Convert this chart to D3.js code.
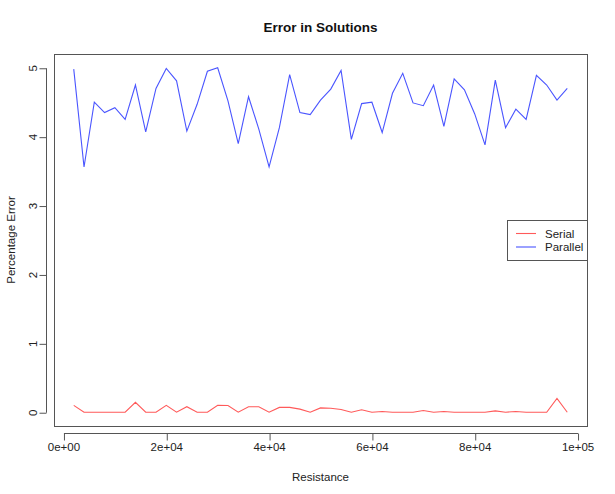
<!DOCTYPE html>
<html><head><meta charset="utf-8">
<script src="https://cdn.jsdelivr.net/npm/d3@7"></script>
<style>body{margin:0;background:#fff}svg{display:block}text{font-family:"Liberation Sans",Arial,sans-serif}</style>
</head><body>
<svg id="c" width="615" height="494"></svg>
<script>
const resistance = [2000,4000,6000,8000,10000,12000,14000,16000,18000,20000,22000,24000,26000,28000,30000,32000,34000,36000,38000,40000,42000,44000,46000,48000,50000,52000,54000,56000,58000,60000,62000,64000,66000,68000,70000,72000,74000,76000,78000,80000,82000,84000,86000,88000,90000,92000,94000,96000,98000];
const parallelErr = [4.98,3.56,4.50,4.35,4.42,4.25,4.75,4.07,4.70,4.99,4.81,4.08,4.47,4.95,5.00,4.52,3.90,4.58,4.11,3.56,4.13,4.90,4.35,4.32,4.53,4.69,4.96,3.96,4.48,4.50,4.06,4.63,4.92,4.49,4.45,4.75,4.15,4.84,4.68,4.33,3.88,4.82,4.13,4.40,4.25,4.89,4.75,4.53,4.70];
const serialErr = [0.10,0,0,0,0,0,0.145,0,0,0.10,0,0.08,0,0,0.10,0.097,0,0.08,0.08,0,0.07,0.07,0.045,0,0.063,0.058,0.04,0,0.035,0,0.01,0,0,0,0.025,0,0.01,0,0,0,0,0.02,0,0.01,0,0,0,0.20,0];
const xTicks = [0,20000,40000,60000,80000,100000];
const xTickLabels = ["0e+00","2e+04","4e+04","6e+04","8e+04","1e+05"];
const yTicks = [0,1,2,3,4,5];
const seriesNames = ["Serial","Parallel"];
const seriesColors = ["#ff5a5a","#4a55ff"];

const svg = d3.select("#c");
const L=54, R=587, T=54, B=426;
const xr = d3.extent(resistance), xp = (xr[1]-xr[0])*0.04;
const x = d3.scaleLinear().domain([xr[0]-xp, xr[1]+xp]).range([L,R]);
const ymax = d3.max(parallelErr.concat(serialErr)), ymin = d3.min(parallelErr.concat(serialErr));
const yp = (ymax-ymin)*0.04;
const y = d3.scaleLinear().domain([ymin-yp, ymax+yp]).range([B,T]);

const axisCol = "#555";
svg.append("rect").attr("x",L+0.5).attr("y",T+0.5).attr("width",R-L).attr("height",B-T)
  .attr("fill","none").attr("stroke",axisCol).attr("stroke-width",1);

const xa = svg.append("g").attr("transform",`translate(0,${B+7.5})`)
  .call(d3.axisBottom(x).tickValues(xTicks).tickFormat((d,i)=>xTickLabels[i]).tickSize(7).tickPadding(2).tickSizeOuter(0));
xa.select(".domain").attr("d",`M${x(0)+0.5},-0.0H${x(100000)+0.5}`).attr("stroke",axisCol);
xa.selectAll(".tick line").attr("stroke",axisCol).attr("transform","translate(0.5,0)");
xa.selectAll(".tick text").attr("font-size",11.5).attr("fill","#222")
  .attr("font-family","'Liberation Sans',Arial,sans-serif");

const ya = svg.append("g").attr("transform",`translate(${L-7.5},0)`)
  .call(d3.axisLeft(y).tickValues(yTicks).tickFormat(d3.format("d")).tickSize(7).tickSizeOuter(0));
ya.select(".domain").attr("d",`M0,${y(0)+0.5}V${y(5)+0.5}`).attr("stroke",axisCol);
ya.selectAll(".tick line").attr("stroke",axisCol).attr("transform","translate(0,0.5)");
ya.selectAll(".tick text").attr("font-size",11.5).attr("fill","#222")
  .attr("x",null).attr("dy",null)
  .attr("text-anchor","middle")
  .attr("transform","translate(-14,0) rotate(-90)").attr("y",0).attr("dy","0.35em")
  .attr("font-family","'Liberation Sans',Arial,sans-serif");

const line = d3.line().x((d,i)=>x(resistance[i])).y(d=>y(d));
[serialErr, parallelErr].forEach((s,k)=>{
  svg.append("path").datum(s).attr("d",line).attr("fill","none")
    .attr("stroke",seriesColors[k]).attr("stroke-width",1.1);
});

svg.append("text").attr("x",(L+R)/2).attr("y",32).attr("text-anchor","middle")
  .attr("font-size",13.5).attr("font-weight","bold").attr("fill","#111").text("Error in Solutions");
svg.append("text").attr("x",(L+R)/2).attr("y",481).attr("text-anchor","middle")
  .attr("font-size",11.5).attr("fill","#222").text("Resistance");
svg.append("text").attr("transform",`translate(15,${(T+B)/2}) rotate(-90)`).attr("text-anchor","middle")
  .attr("font-size",11.5).attr("fill","#222").text("Percentage Error");

const lg = svg.append("g");
lg.append("rect").attr("x",507.5).attr("y",220.5).attr("width",R-507).attr("height",40)
  .attr("fill","#fff").attr("stroke",axisCol);
seriesNames.forEach((n,k)=>{
  const yy = 233.5 + k*13.5;
  lg.append("line").attr("x1",516).attr("x2",536).attr("y1",yy).attr("y2",yy)
    .attr("stroke",seriesColors[k]).attr("stroke-width",1.1);
  lg.append("text").attr("x",545).attr("y",yy).attr("dy","0.35em").attr("font-size",11.5)
    .attr("fill","#222").text(n);
});
</script>
</body></html>
